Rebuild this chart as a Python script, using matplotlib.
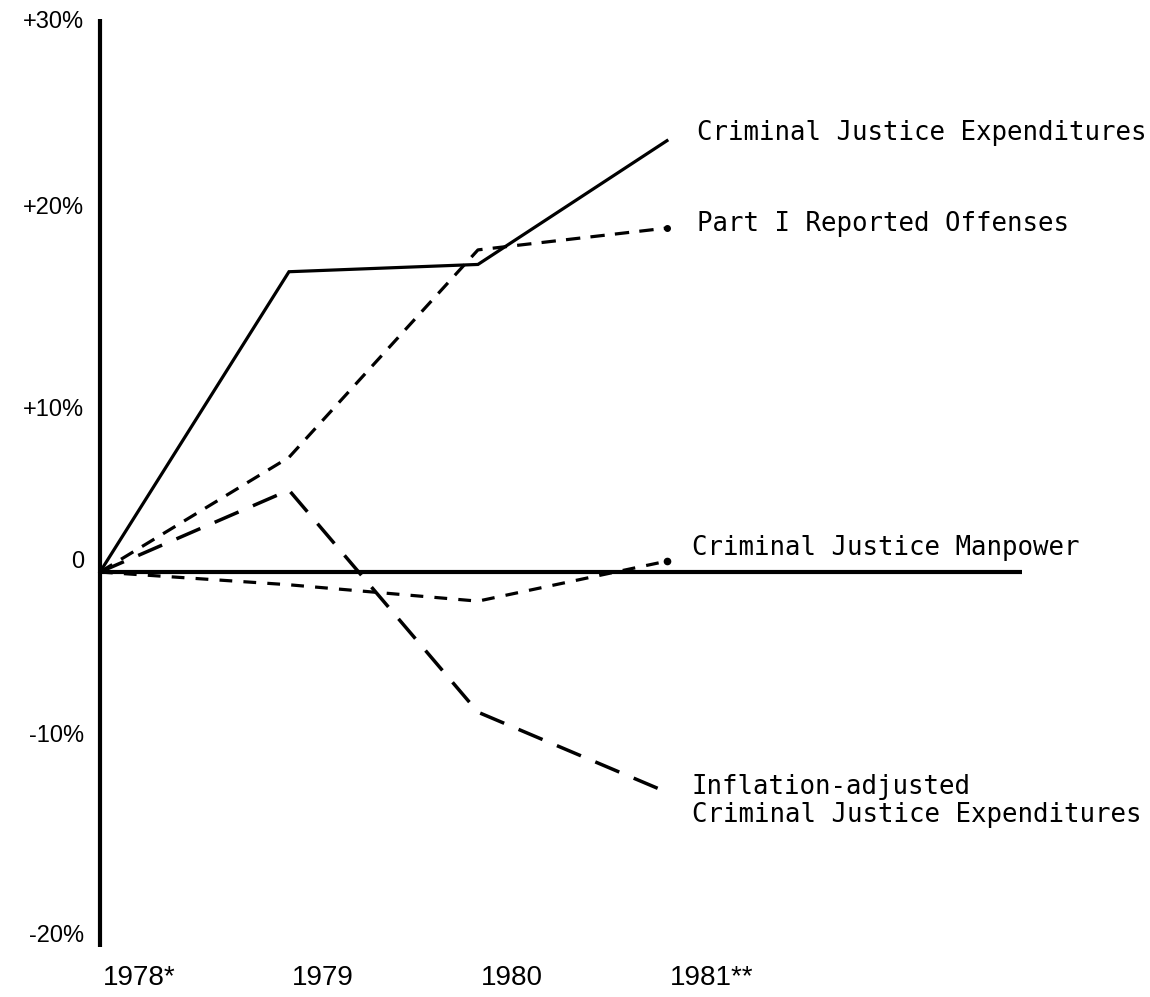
import numpy as np
import matplotlib
matplotlib.use('Agg')
import matplotlib.pyplot as plt

#--datos (cambio porcentual respecto a 1978)
years = [1978, 1979, 1980, 1981]
year_labels = ['1978*', '1979', '1980', '1981**']
cj_expend = [0, 16.5, 16.9, 23.7]
part1_offenses = [0, 6.3, 17.7, 18.9]
cj_manpower = [0, -0.7, -1.6, 0.6]
infl_adj_expend = [0, 4.5, -7.7, -12.1]

ytick_labels = ['+30%', '+20%', '+10%', '0', '-10%', '-20%']
ytick_pos = [30.2, 20.0, 8.9, 0.55, -9.0, -20.0]

#--figura: ejes ocupando todo el lienzo
W, H = 1150, 997
fig = plt.figure(figsize=(W / 100, H / 100), dpi=100)
ax = fig.add_axes([0, 0, 1, 1])
ax.set_xlim(1977.471, 1983.556)
ax.set_ylim(-23.35, 31.43)
ax.axis('off')

#--ejes dibujados a mano
ax.plot([1978, 1978], [-20.6, 30.4], color='black', lw=3.0, solid_capstyle='butt')
ax.plot([1978, 1982.88], [0, 0], color='black', lw=3.0, solid_capstyle='butt')

#--series
ax.plot(years, cj_expend, color='black', lw=2.3, solid_joinstyle='miter')
ax.plot(years, part1_offenses, color='black', lw=2.3, dashes=(4.5, 3.2))
ax.plot(years[-1], part1_offenses[-1], 'o', color='black', ms=4)
ax.plot(years, cj_manpower, color='black', lw=2.3, dashes=(4.0, 3.5))
ax.plot(years[-1], cj_manpower[-1], 'o', color='black', ms=4.5)
ax.plot(years, infl_adj_expend, color='black', lw=2.5, dashes=(7.5, 4.5))

#--etiquetas del eje y
for lab, pos in zip(ytick_labels, ytick_pos):
    ax.text(84 / W * 0 + 1977.471 + 84 / 189, pos, lab, ha='right', va='center',
            fontsize=17, family='Liberation Sans')

#--etiquetas de los años
for yr, lab in zip(years, year_labels):
    ax.text(yr + 3 / 189, (572 - 978) / 18.2, lab, ha='left', va='center',
            fontsize=20, family='Liberation Sans')

#--nombres de las series
mono = 'DejaVu Sans Mono'
fig.text(697 / W, 1 - 133 / H, 'Criminal Justice Expenditures', ha='left', va='center',
         fontsize=18.5, family=mono)
fig.text(697 / W, 1 - 224 / H, 'Part I Reported Offenses', ha='left', va='center',
         fontsize=18.5, family=mono)
fig.text(692 / W, 1 - 548 / H, 'Criminal Justice Manpower', ha='left', va='center',
         fontsize=18.5, family=mono)
fig.text(692 / W, 1 - 801 / H, 'Inflation-adjusted\nCriminal Justice Expenditures',
         ha='left', va='center', fontsize=18.5, family=mono, linespacing=1.05)

fig.savefig('out.png', dpi=100)
